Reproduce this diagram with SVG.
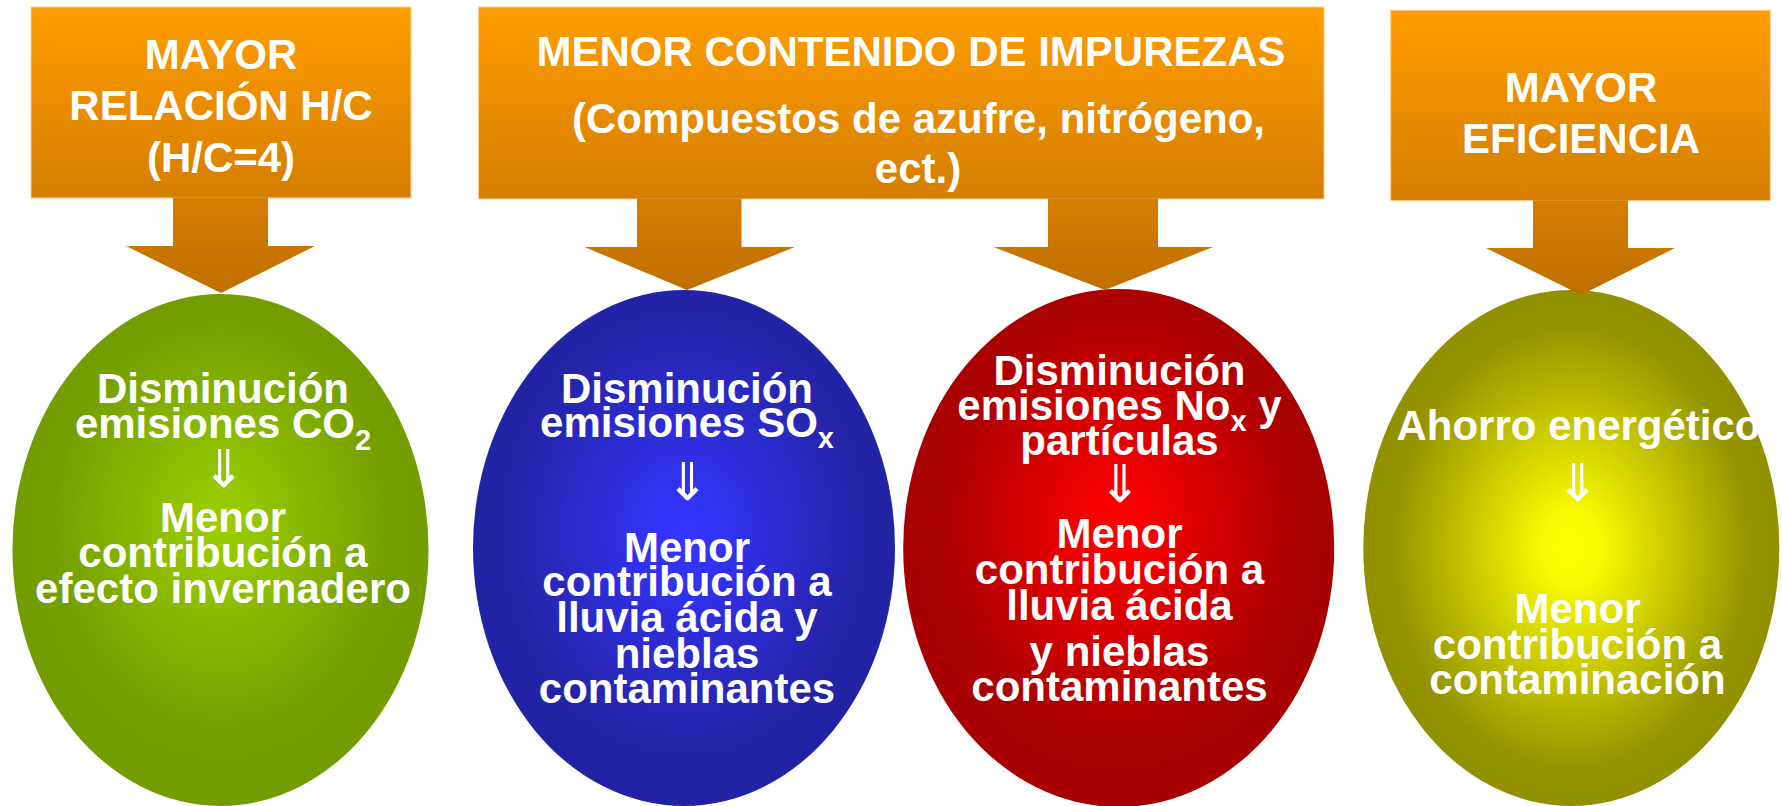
<svg xmlns="http://www.w3.org/2000/svg" width="1782" height="806" viewBox="0 0 1782 806">
<style>
.t{font-family:"Liberation Sans",Arial,sans-serif;font-weight:bold;fill:#fff;text-anchor:middle}
.h{font-size:42px}
.e{font-size:42px}
.s{font-size:29px}
.ar{font-family:"DejaVu Sans",sans-serif;font-weight:normal;fill:#fff;text-anchor:middle;font-size:52px}
.box{stroke:#f8cf94;stroke-width:1}
</style>
<defs>
<linearGradient id="o1" gradientUnits="userSpaceOnUse" x1="0" y1="7" x2="0" y2="293"><stop offset="0" stop-color="#ff9d00"/><stop offset="1" stop-color="#c06f00"/></linearGradient>
<linearGradient id="o2" gradientUnits="userSpaceOnUse" x1="0" y1="7" x2="0" y2="291"><stop offset="0" stop-color="#ff9d00"/><stop offset="1" stop-color="#c06f00"/></linearGradient>
<linearGradient id="o3" gradientUnits="userSpaceOnUse" x1="0" y1="10" x2="0" y2="295"><stop offset="0" stop-color="#ff9d00"/><stop offset="1" stop-color="#c06f00"/></linearGradient>
<radialGradient id="gG" cx="0.5" cy="0.45" r="0.5"><stop offset="0" stop-color="#9acc00"/><stop offset="0.1" stop-color="#98ca00"/><stop offset="0.82" stop-color="#749e00"/><stop offset="1" stop-color="#739c00"/></radialGradient>
<radialGradient id="gB" cx="0.5" cy="0.47" r="0.5"><stop offset="0" stop-color="#3636ff"/><stop offset="0.1" stop-color="#3434fa"/><stop offset="0.82" stop-color="#2424a8"/><stop offset="1" stop-color="#2222a4"/></radialGradient>
<radialGradient id="gR" cx="0.5" cy="0.45" r="0.5"><stop offset="0" stop-color="#ff0000"/><stop offset="0.1" stop-color="#fa0000"/><stop offset="0.82" stop-color="#aa0000"/><stop offset="1" stop-color="#a80000"/></radialGradient>
<radialGradient id="gY" cx="0.5" cy="0.5" r="0.5"><stop offset="0" stop-color="#ffff00"/><stop offset="0.15" stop-color="#f8f800"/><stop offset="0.85" stop-color="#949400"/><stop offset="1" stop-color="#919100"/></radialGradient>
</defs>

<g id="ellipse-co2">
<ellipse cx="220.5" cy="550" rx="208" ry="256" fill="url(#gG)"/>
<text class="t e" x="223" y="403">Disminución</text>
<text class="t e" x="223" y="438">emisiones CO<tspan class="s" dy="12">2</tspan></text>
<text class="ar" x="223.7" y="487">⇓</text>
<text class="t e" x="223" y="532">Menor</text>
<text class="t e" x="223" y="567">contribución a</text>
<text class="t e" x="223" y="603">efecto invernadero</text>
</g>

<g id="ellipse-sox">
<ellipse cx="684" cy="548" rx="211" ry="258" fill="url(#gB)"/>
<text class="t e" x="687" y="403">Disminución</text>
<text class="t e" x="687" y="437">emisiones SO<tspan class="s" dy="11">x</tspan></text>
<text class="ar" x="687.5" y="500">⇓</text>
<text class="t e" x="687" y="562">Menor</text>
<text class="t e" x="687" y="596">contribución a</text>
<text class="t e" x="687" y="632">lluvia ácida y</text>
<text class="t e" x="687" y="668">nieblas</text>
<text class="t e" x="687" y="703">contaminantes</text>
</g>

<g id="ellipse-nox">
<ellipse cx="1118.7" cy="548" rx="215.5" ry="259" fill="url(#gR)"/>
<text class="t e" x="1119.5" y="385">Disminución</text>
<text class="t e" x="1119.5" y="420">emisiones No<tspan class="s" dy="11">x</tspan><tspan dy="-11"> y</tspan></text>
<text class="t e" x="1119.5" y="455">partículas</text>
<text class="ar" x="1120" y="502">⇓</text>
<text class="t e" x="1119.5" y="548">Menor</text>
<text class="t e" x="1119.5" y="584">contribución a</text>
<text class="t e" x="1119.5" y="620">lluvia ácida</text>
<text class="t e" x="1119.5" y="666">y nieblas</text>
<text class="t e" x="1119.5" y="701">contaminantes</text>
</g>

<g id="ellipse-ahorro">
<ellipse cx="1571.3" cy="548" rx="208" ry="258" fill="url(#gY)"/>
<text class="t e" x="1578.5" y="440">Ahorro energético</text>
<text class="ar" x="1577.7" y="501">⇓</text>
<text class="t e" x="1577.5" y="623">Menor</text>
<text class="t e" x="1577.5" y="659">contribución a</text>
<text class="t e" x="1577.5" y="694">contaminación</text>
</g>

<g id="box-hc">
<rect class="box" x="31" y="7" width="380" height="191" fill="url(#o1)"/>
<text class="t h" x="221" y="69">MAYOR</text>
<text class="t h" x="221" y="120">RELACIÓN H/C</text>
<text class="t h" x="221" y="172">(H/C=4)</text>
</g>

<g id="box-impurezas">
<rect class="box" x="478.5" y="7" width="845.5" height="192" fill="url(#o2)"/>
<text class="t h" x="911" y="66">MENOR CONTENIDO DE IMPUREZAS</text>
<text class="t h" x="918.5" y="133">(Compuestos de azufre, nitrógeno,</text>
<text class="t h" x="918" y="183">ect.)</text>
</g>

<g id="box-eficiencia">
<rect class="box" x="1390.7" y="10.3" width="379.6" height="190.4" fill="url(#o3)"/>
<text class="t h" x="1581" y="101.7">MAYOR</text>
<text class="t h" x="1581" y="153.3">EFICIENCIA</text>
</g>

<g id="connectors">
<polygon points="173,197.5 268,197.5 268,246 315,246 221,293 126,246 173,246" fill="url(#o1)"/>
<polygon points="637,198.5 741.5,198.5 741.5,247 795,247 687,290 584.5,247 637,247" fill="url(#o2)"/>
<polygon points="1048,198.5 1158,198.5 1158,247 1213,247 1105,290 993.5,247 1048,247" fill="url(#o2)"/>
<polygon points="1533,200.2 1628,200.2 1628,248 1675,248 1581,295 1486,248 1533,248" fill="url(#o3)"/>
</g>
</svg>
